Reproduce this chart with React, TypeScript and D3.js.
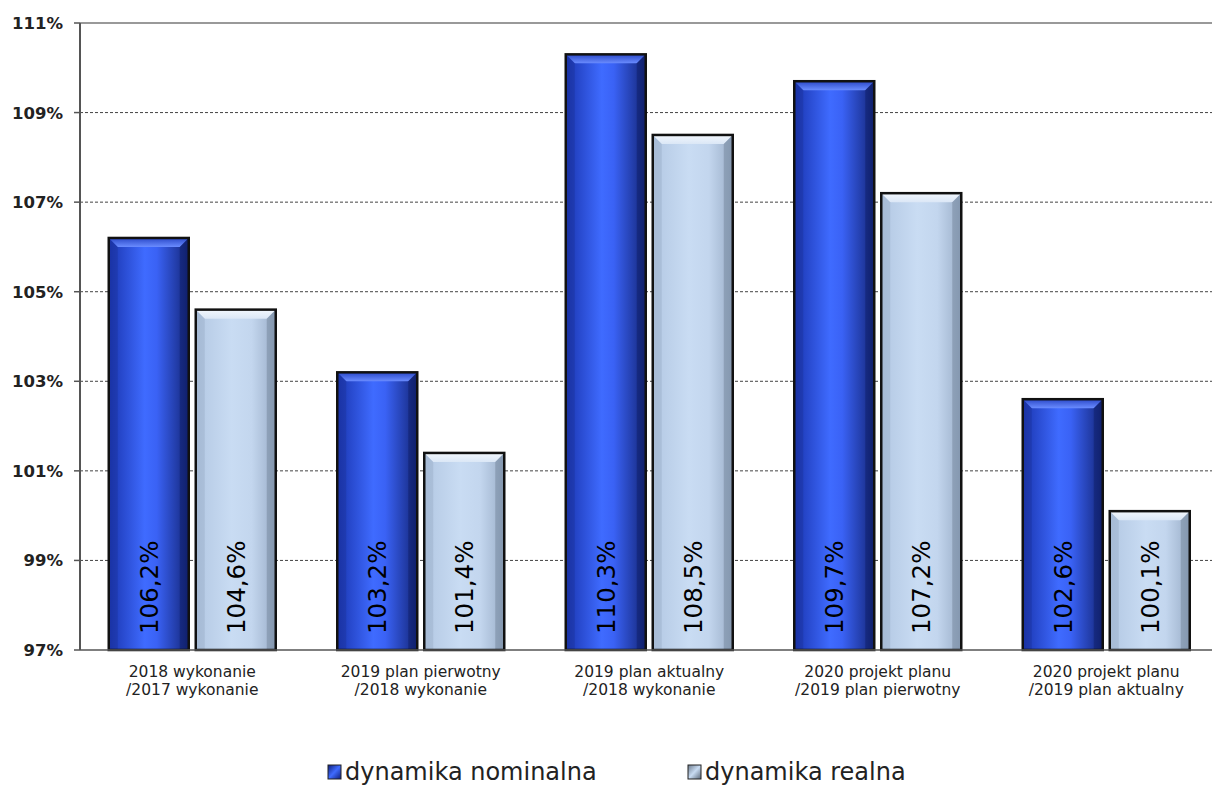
import React from "react";
import * as d3 from "d3";

const categories = [
  ["2018 wykonanie", "/2017 wykonanie"],
  ["2019 plan pierwotny", "/2018 wykonanie"],
  ["2019 plan aktualny", "/2018 wykonanie"],
  ["2020 projekt planu", "/2019 plan pierwotny"],
  ["2020 projekt planu", "/2019 plan aktualny"],
];
const nominal = [106.2, 103.2, 110.3, 109.7, 102.6];
const real = [104.6, 101.4, 108.5, 107.2, 100.1];
const yTicks = [97, 99, 101, 103, 105, 107, 109, 111];
const seriesNames = ["dynamika nominalna", "dynamika realna"];

const W = 1212, H = 790;
const M = { left: 80, right: 1212, top: 23, bottom: 650 };

export default function App() {
  const y = d3.scaleLinear().domain([97, 111]).range([M.bottom, M.top]);
  const x0 = d3.scaleBand<number>().domain(d3.range(categories.length)).range([78, 78 + 5 * 228.5]).paddingInner(0).paddingOuter(0);
  const bw = 80, gap = 7;
  const fmt = (v: number) => v.toFixed(1).replace(".", ",") + "%";
  const series = [
    { vals: nominal, grad: "gN", bev: "bN" },
    { vals: real, grad: "gR", bev: "bR" },
  ];

  const bar = (v: number, cx: number, s: number, key: string) => {
    const sr = series[s];
    const xL = cx + (s === 0 ? -gap / 2 - bw : gap / 2);
    const yT = y(v);
    const h = M.bottom - yT;
    const bev = 9;
    return (
      <g key={key}>
        <rect x={xL} y={yT} width={bw} height={h} fill={`url(#${sr.grad})`} />
        <polygon points={`${xL},${yT} ${xL + bw},${yT} ${xL + bw - bev},${yT + bev} ${xL + bev},${yT + bev}`} fill={`url(#${sr.bev})`} />
        <polygon points={`${xL},${yT} ${xL + bev},${yT + bev} ${xL + bev},${M.bottom} ${xL},${M.bottom}`} fill={s === 0 ? "#1b2f8f" : "#8fa3bd"} opacity={0.35} />
        <polygon points={`${xL + bw},${yT} ${xL + bw - bev},${yT + bev} ${xL + bw - bev},${M.bottom} ${xL + bw},${M.bottom}`} fill={s === 0 ? "#0a1450" : "#5d6d80"} opacity={0.35} />
        <rect x={xL} y={yT} width={bw} height={h} fill="none" stroke="#111" strokeWidth={2.5} />
        <text
          transform={`translate(${xL + bw / 2 + 9},${M.bottom - 16}) rotate(-90)`}
          fontFamily="DejaVu Sans"
          fontSize={24.5}
          fill="#000"
        >
          {fmt(v)}
        </text>
      </g>
    );
  };

  return (
    <svg width={W} height={H} style={{ position: "absolute", left: 0, top: 0, background: "#fff" }}>
      <defs>
        <linearGradient id="gN" x1="0" x2="1" y1="0" y2="0">
          <stop offset="0" stopColor="#1a35b0" />
          <stop offset="0.45" stopColor="#3f6bff" />
          <stop offset="0.6" stopColor="#3a62f5" />
          <stop offset="1" stopColor="#14267a" />
        </linearGradient>
        <linearGradient id="bN" x1="0" x2="0" y1="0" y2="1">
          <stop offset="0" stopColor="#2a48c8" />
          <stop offset="1" stopColor="#6a8cff" />
        </linearGradient>
        <linearGradient id="gR" x1="0" x2="1" y1="0" y2="0">
          <stop offset="0" stopColor="#b3c8e3" />
          <stop offset="0.45" stopColor="#c9dcf3" />
          <stop offset="0.7" stopColor="#c3d6ee" />
          <stop offset="1" stopColor="#9aaec8" />
        </linearGradient>
        <linearGradient id="bR" x1="0" x2="0" y1="0" y2="1">
          <stop offset="0" stopColor="#f2f7fd" />
          <stop offset="1" stopColor="#dbe7f6" />
        </linearGradient>
        <linearGradient id="lN" x1="0" x2="1" y1="0" y2="1">
          <stop offset="0" stopColor="#0d1d7a" />
          <stop offset="0.5" stopColor="#3f6bff" />
          <stop offset="1" stopColor="#0d1d7a" />
        </linearGradient>
        <linearGradient id="lR" x1="0" x2="1" y1="0" y2="1">
          <stop offset="0" stopColor="#6d7b8d" />
          <stop offset="0.5" stopColor="#c9dcf3" />
          <stop offset="1" stopColor="#5a6778" />
        </linearGradient>
      </defs>

      {yTicks.map((t) => (
        <g key={t}>
          {t !== 97 && (
            <line
              x1={M.left}
              x2={M.right}
              y1={y(t)}
              y2={y(t)}
              stroke={t === 111 ? "#777" : "#444"}
              strokeWidth={t === 111 ? 1.5 : 1}
              strokeDasharray={t === 111 ? undefined : "3,2"}
            />
          )}
          <line x1={M.left - 6} x2={M.left} y1={y(t)} y2={y(t)} stroke="#555" strokeWidth={1.5} />
          <text x={M.left - 17} y={y(t) + 6} textAnchor="end" fontFamily="DejaVu Sans" fontWeight="bold" fontSize={16.5} fill="#222">
            {t}%
          </text>
        </g>
      ))}

      {categories.map((c, i) => {
        const cx = (x0(i) as number) + x0.bandwidth() / 2;
        return (
          <g key={i}>
            {series.map((s, si) => bar(s.vals[i], cx, si, `${i}-${si}`))}
            <text x={cx} y={677} textAnchor="middle" fontFamily="DejaVu Sans" fontSize={15.5} fill="#222">{c[0]}</text>
            <text x={cx} y={695} textAnchor="middle" fontFamily="DejaVu Sans" fontSize={15.5} fill="#222">{c[1]}</text>
          </g>
        );
      })}

      <line x1={M.left} x2={M.right} y1={M.bottom} y2={M.bottom} stroke="#555" strokeWidth={1.5} />
      <line x1={M.left} x2={M.left} y1={M.top} y2={M.bottom} stroke="#555" strokeWidth={2} />

      {seriesNames.map((n, i) => {
        const lx = i === 0 ? 328 : 688;
        return (
          <g key={n}>
            <rect x={lx} y={765} width={13} height={14} fill={`url(#${i === 0 ? "lN" : "lR"})`} stroke="#222" strokeWidth={1} />
            <text x={lx + 17} y={780} fontFamily="DejaVu Sans" fontSize={24} fill="#222">{n}</text>
          </g>
        );
      })}
    </svg>
  );
}
